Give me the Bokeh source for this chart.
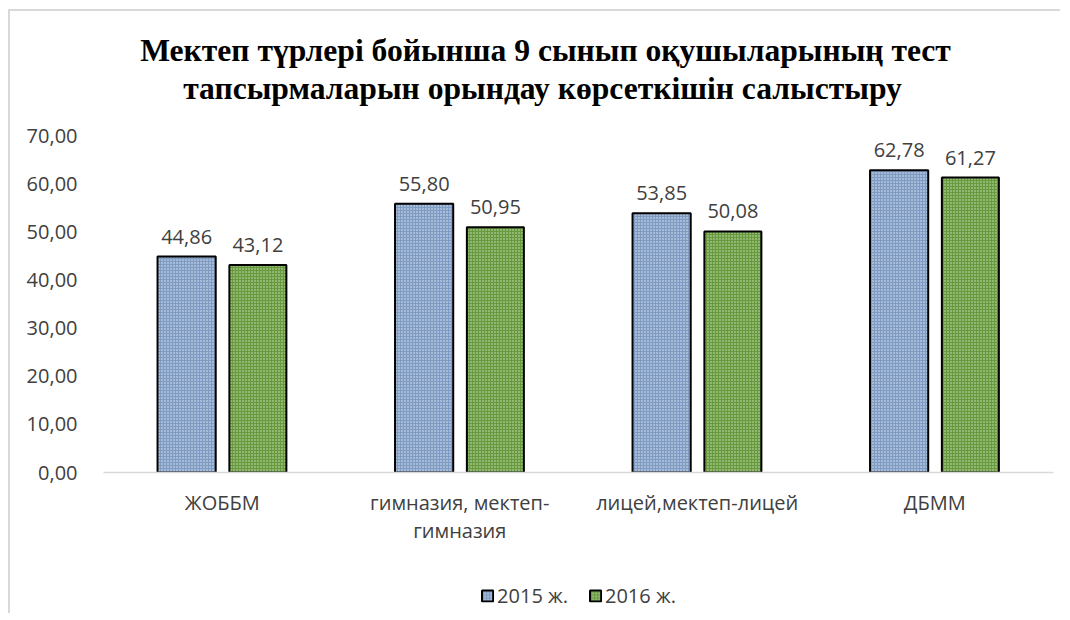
from bokeh.plotting import figure
from bokeh.layouts import column
from bokeh.models import (ColumnDataSource, FactorRange, Range1d, Legend, LegendItem, Label,
                          LabelSet, FixedTicker, CustomJSTickFormatter)
from bokeh.core.properties import value
from bokeh.transform import dodge
from bokeh.embed import file_html
from bokeh.resources import INLINE

categories = ["ЖОББМ", "гимназия, мектеп-\nгимназия", "лицей,мектеп-лицей", "ДБММ"]
values_2015 = [44.86, 55.80, 53.85, 62.78]
values_2016 = [43.12, 50.95, 50.08, 61.27]
series_names = ["2015 ж.", "2016 ж."]
title_lines = ["Мектеп түрлері бойынша 9 сынып оқушыларының тест",
               "тапсырмаларын орындау көрсеткішін  салыстыру"]
y_ticks = [0, 10, 20, 30, 40, 50, 60, 70]

fmt = lambda v: f"{v:.2f}".replace(".", ",")
src = ColumnDataSource(dict(
    cat=categories,
    v15=values_2015, v16=values_2016,
    l15=[fmt(v) for v in values_2015], l16=[fmt(v) for v in values_2016],
))

FONT = "Open Sans"
BORDER = "2px solid #d9d9d9"
W = 1052
blue = "#7E9BC3"
green = "#679A3C"
bar15 = dict(fill_color=blue, line_color="#000000", line_width=2,
             hatch_pattern="dot", hatch_color="white", hatch_alpha=0.8, hatch_scale=3, hatch_weight=1)
bar16 = dict(fill_color=green, line_color="#000000", line_width=2,
             hatch_pattern="dot", hatch_color="white", hatch_alpha=0.7, hatch_scale=3, hatch_weight=1)

# --- title strip ---
TH = 114
ts = figure(width=W, height=TH, x_range=Range1d(0, W), y_range=Range1d(0, TH),
            output_backend="svg", toolbar_location=None, x_axis_location=None, y_axis_location=None,
            min_border=0, margin=(9, 0, 0, 8))
ts.styles = {"border-left": BORDER, "border-top": BORDER}
ts.grid.visible = False
ts.outline_line_color = None
for txt, tx, ty in ((title_lines[0], 489.5, 75), (title_lines[1], 490.5, 37.5)):
    ts.add_layout(Label(x=tx, y=ty, text=txt, text_align="center", text_baseline="middle",
                        text_font="Liberation Serif", text_font_style="bold",
                        text_font_size="31.6px", text_color="#000000"))

# --- chart ---
p = figure(width=W, height=445, x_range=FactorRange(*categories, range_padding=0),
           y_range=Range1d(0, 70), output_backend="svg", toolbar_location=None,
           min_border_left=93, min_border_right=9, min_border_bottom=96, min_border_top=12,
           margin=(0, 0, 0, 8))
p.styles = {"border-left": BORDER}
p.title.visible = False

p.vbar(x=dodge("cat", -0.15, range=p.x_range), top="v15", width=0.245, source=src, **bar15)
p.vbar(x=dodge("cat", 0.15, range=p.x_range), top="v16", width=0.24, source=src, **bar16)

for col, lab, off in (("v15", "l15", -0.15), ("v16", "l16", 0.15)):
    ls = LabelSet(x=dodge("cat", off, range=p.x_range), y=col, text=lab, source=src,
                  text_align="center", text_baseline="bottom", y_offset=13,
                  text_font=value(FONT), text_font_size="20px", text_color="#404040")
    p.add_layout(ls)

p.xgrid.visible = False
p.ygrid.visible = False
p.outline_line_color = None

p.yaxis.ticker = FixedTicker(ticks=y_ticks)
p.yaxis.formatter = CustomJSTickFormatter(code="return tick.toFixed(2).replace('.', ',');")
p.yaxis.axis_line_color = None
p.yaxis.major_tick_line_color = None
p.yaxis.minor_tick_line_color = None
p.yaxis.major_label_text_font = FONT
p.yaxis.major_label_text_font_size = "20px"
p.yaxis.major_label_text_color = "#404040"
p.yaxis.major_label_standoff = 20

p.xaxis.axis_line_color = "#d9d9d9"
p.xaxis.axis_line_width = 1.5
p.xaxis.major_tick_line_color = None
p.xaxis.minor_tick_line_color = None
p.xaxis.major_label_text_font = FONT
p.xaxis.major_label_text_font_size = "20px"
p.xaxis.major_label_text_line_height = 1.05
p.xaxis.major_label_text_color = "#404040"
p.xaxis.major_label_standoff = 10

# --- legend strip ---
lg = figure(width=W, height=45, x_range=Range1d(0, 1), y_range=Range1d(0, 1),
            output_backend="svg", toolbar_location=None, x_axis_location=None, y_axis_location=None,
            min_border_left=30, min_border_right=0, min_border_top=9, min_border_bottom=0,
            margin=(0, 0, 0, 8))
lg.styles = {"border-left": BORDER}
lg.grid.visible = False
lg.outline_line_color = None
leg_src = ColumnDataSource(dict(x=[0.5], top=[0]))
r15 = lg.vbar(x="x", top="top", width=0, source=leg_src, **bar15)
r16 = lg.vbar(x="x", top="top", width=0, source=leg_src, **bar16)
legend = Legend(items=[LegendItem(label=series_names[0], renderers=[r15]),
                       LegendItem(label=series_names[1], renderers=[r16])],
                orientation="horizontal", location="center",
                label_text_font=FONT, label_text_font_size="20px", label_text_color="#404040",
                glyph_width=14, glyph_height=14, label_standoff=3, spacing=20,
                border_line_color=None, background_fill_alpha=0, margin=0, padding=0)
lg.add_layout(legend, "center")

open("out.html", "w").write(file_html(column(ts, p, lg, spacing=0), INLINE))
